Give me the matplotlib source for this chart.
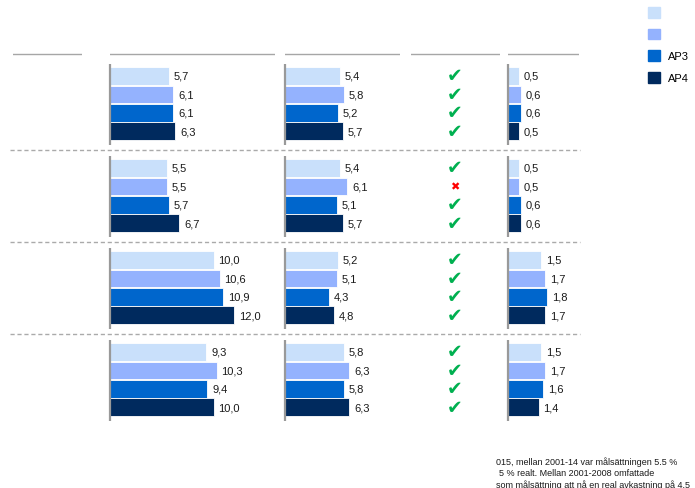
import matplotlib.pyplot as plt
import matplotlib.transforms as mtransforms
from matplotlib.patches import Patch
from matplotlib.lines import Line2D

plt.rcParams['font.family'] = ['Liberation Sans', 'DejaVu Sans']

# fonder (legend) - de två första etiketterna syns inte i bilden
funds = ['', '', 'AP3', 'AP4']
colors = ['#C9E0FB', '#94B2FE', '#0066CC', '#002A5E']

# fyra grupper, fyra fonder per grupp
col1 = [[5.7, 6.1, 6.1, 6.3],
        [5.5, 5.5, 5.7, 6.7],
        [10.0, 10.6, 10.9, 12.0],
        [9.3, 10.3, 9.4, 10.0]]
col2 = [[5.4, 5.8, 5.2, 5.7],
        [5.4, 6.1, 5.1, 5.7],
        [5.2, 5.1, 4.3, 4.8],
        [5.8, 6.3, 5.8, 6.3]]
goal_met = [[True, True, True, True],
            [True, False, True, True],
            [True, True, True, True],
            [True, True, True, True]]
col4 = [[0.5, 0.6, 0.6, 0.5],
        [0.5, 0.5, 0.6, 0.6],
        [1.5, 1.7, 1.8, 1.7],
        [1.5, 1.7, 1.6, 1.4]]

W, H = 695, 489
fig = plt.figure(figsize=(W / 100, H / 100), dpi=100)

TOP, BOT = 49.4, 426.6   # pixelrader för y = -1.5 och y = 19


def panel(x0, x1):
    ax = fig.add_axes([x0 / W, (H - BOT) / H, (x1 - x0) / W, (BOT - TOP) / H])
    ax.set_ylim(19, -1.5)
    ax.axis('off')
    ax.axhline(-1.2, color='#A6A6A6', lw=1)
    return ax


def fmt(v):
    return f'{v:.1f}'.replace('.', ',')


def bar_panel(ax, data, xmax):
    ax.set_xlim(0, xmax)
    for g, vals in enumerate(data):
        ys = [g * 5 + i for i in range(len(vals))]
        ax.barh(ys, vals, height=0.95, color=colors, edgecolor='white', linewidth=0.6)
        for y, v in zip(ys, vals):
            ax.annotate(fmt(v), (v, y), xytext=(3.5, 0), textcoords='offset points',
                        va='center', ha='left', fontsize=8, color='#1A1A1A')
        ax.vlines(0, g * 5 - 0.65, g * 5 + 3.75, color='#999999', lw=1.6, clip_on=False)


ax0 = panel(13, 82)
ax1 = panel(110, 275)
ax2 = panel(285, 400)
ax3 = panel(411, 500)
ax4 = panel(508, 579)

bar_panel(ax1, col1, 15.94)
bar_panel(ax2, col2, 11.27)
bar_panel(ax4, col4, 3.25)

ax3.set_xlim(0, 1)
for g, row in enumerate(goal_met):
    for i, ok in enumerate(row):
        y = g * 5 + i
        if ok:
            ax3.text(0.49, y, '\u2714', ha='center', va='center', color='#00B050',
                     fontsize=13.5, family='DejaVu Sans')
        else:
            ax3.text(0.49, y, '\u2716', ha='center', va='center', color='#FF0000',
                     fontsize=8, family='DejaVu Sans')

# streckade avdelare mellan grupperna
trans = mtransforms.blended_transform_factory(fig.transFigure, ax1.transData)
for g in range(len(col1) - 1):
    y = g * 5 + 4
    fig.add_artist(Line2D([10 / W, 580 / W], [y, y], transform=trans,
                          color='#AAAAAA', lw=1, ls=(0, (3, 2))))

handles = [Patch(facecolor=c, edgecolor=c) for c in colors]
fig.legend(handles, funds, loc='upper left', bbox_to_anchor=(648 / W, 1 - 8 / H),
           frameon=False, fontsize=8, handlelength=1.1, handleheight=1.1,
           labelspacing=0.95, handletextpad=0.7, borderpad=0, borderaxespad=0)

# fotnot (avklippt i originalet)
fig.text(496 / W, 1 - 462 / H, '015, mellan 2001-14 var målsättningen 5.5 %',
         fontsize=6.45, va='center', color='#1A1A1A')
fig.text(499 / W, 1 - 474 / H, '5 % realt. Mellan 2001-2008 omfattade',
         fontsize=6.45, va='center', color='#1A1A1A')
fig.text(496 / W, 1 - 485 / H, 'som målsättning att nå en real avkastning på 4.5',
         fontsize=6.45, va='center', color='#1A1A1A')

fig.savefig('out.png', dpi=100)
